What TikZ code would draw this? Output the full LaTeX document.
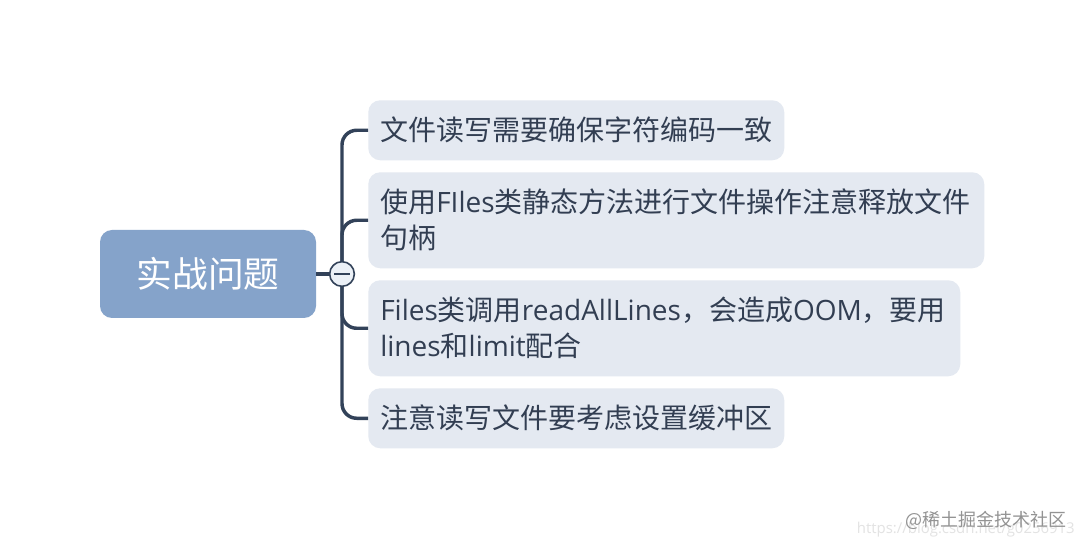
\documentclass[tikz,border=0pt]{standalone}
\usepackage{fontspec}
\setmainfont{Open Sans}
\newfontfamily\cjk{Noto Sans CJK SC}
\usepackage{tikz}
\definecolor{rootblue}{RGB}{133,163,202}
\definecolor{leafgray}{RGB}{228,233,241}
\definecolor{foldfill}{RGB}{236,241,247}
\definecolor{linedark}{RGB}{50,66,89}
\definecolor{inkdark}{RGB}{50,62,82}
\begin{document}
\begin{tikzpicture}[x=0.75pt,y=0.75pt,yscale=-1,xscale=1]
\tikzset{
leaf/.style={fill=leafgray,rounded corners=9pt,anchor=north west,inner xsep=9pt,inner ysep=0pt,align=left,text=inkdark,font=\fontsize{21pt}{27pt}\selectfont},
branch/.style={draw=linedark,line width=2.6pt,rounded corners=11pt},
}
\useasboundingbox (0,0) rectangle (1084,548);
\fill[white] (0,0) rectangle (1084,548);

% Root
\node (root) [fill=rootblue,rounded corners=9pt,minimum width=162pt,minimum height=66pt,inner sep=0pt,text=white,font=\fontsize{26.8pt}{30pt}\selectfont\cjk] at (208,274) {实战问题};

% Leaves
\node (leafa) [leaf,text width=294pt,minimum height=45pt] at (368,100) {\cjk 文件读写需要确保字符编码一致};
\node (leafb) [leaf,text width=444pt,minimum height=72pt] at (368,172) {{\cjk 使用}FIles{\cjk 类静态方法进行文件操作注意释放文件}\\ {\cjk 句柄}};
\node (leafc) [leaf,text width=426pt,minimum height=72pt] at (368,280) {Files{\cjk 类调用}readAllLines{\cjk ，会造成}OOM{\cjk ，要用}\\ lines{\cjk 和}limit{\cjk 配合}};
\node (leafd) [leaf,text width=294pt,minimum height=45pt] at (368,388) {\cjk 注意读写文件要考虑设置缓冲区};

% Connectors
\coordinate (hub) at (342,274);
\draw[branch] (root.east) -- (hub);
\draw[branch] (leafa.west) -| (hub) |- (leafd.west);
\draw[branch] (hub) |- (leafb.west);
\draw[branch] (hub) |- (leafc.west);

% Collapse mark
\node (fold) [circle,draw=linedark,line width=1.2pt,fill=foldfill,minimum size=18.5pt,inner sep=0pt] at (hub) {};
\draw[linedark,line width=1.2pt] ([xshift=-6pt]fold.center) -- ([xshift=6pt]fold.center);

% Watermark
\node (url) [anchor=east,inner sep=0pt,text=gray!22,font=\fontsize{11.2pt}{14pt}\selectfont] at (1075,530) {https://blog.csdn.net/g0256913};
\node (mark) [anchor=east,inner sep=0pt,text=gray!85,font=\fontsize{13.5pt}{15pt}\selectfont\cjk] at (1067,520) {@稀土掘金技术社区};
\end{tikzpicture}
\end{document}
